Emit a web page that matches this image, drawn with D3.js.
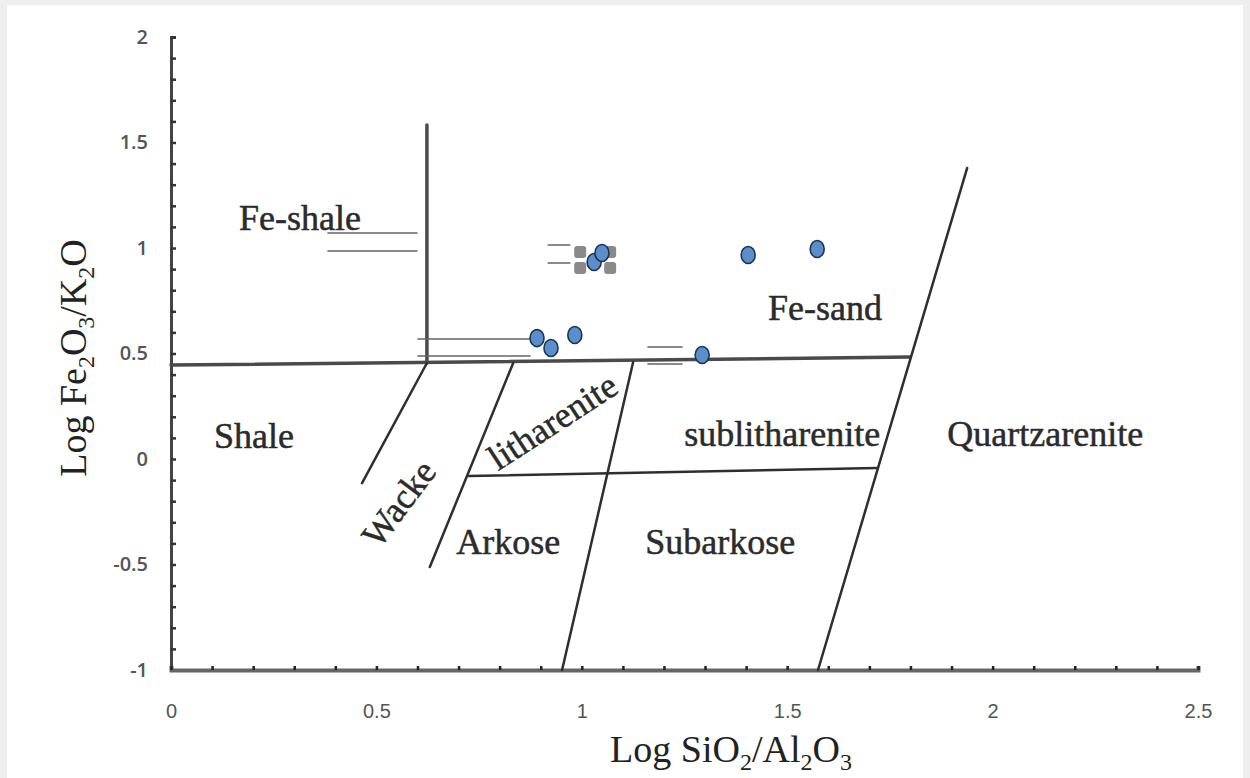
<!DOCTYPE html>
<html><head><meta charset="utf-8">
<script src="https://cdn.jsdelivr.net/npm/d3@7"></script>
<style>body{margin:0;background:#fff}svg{display:block}</style>
</head><body>
<svg id="c" width="1250" height="778"></svg>
<script>
// ---- data (log ratios) ----
const sampleX = [0.891, 0.925, 0.983, 1.030, 1.049, 1.293, 1.405, 1.573];
const sampleY = [0.573, 0.526, 0.588, 0.934, 0.976, 0.493, 0.967, 0.995];
const squareX = [0.996, 1.069, 0.996, 1.069];
const squareY = [0.981, 0.981, 0.905, 0.905];
// classification boundaries [x1,y1,x2,y2]
const mainBoundaries = [
  [0, 0.445, 1.799, 0.483],
  [0.623, 0.455, 0.623, 1.583]
];
const fieldBoundaries = [
  [0.465, -0.114, 0.623, 0.455],
  [0.630, -0.512, 0.833, 0.455],
  [0.952, -1.0, 1.125, 0.460],
  [1.575, -1.0, 1.938, 1.379],
  [0.725, -0.081, 1.718, -0.043]
];
const stubLines = [
  [0.382, 1.071, 0.599, 1.071], [0.382, 0.986, 0.599, 0.986],
  [0.918, 1.014, 0.971, 1.014], [0.918, 0.929, 0.971, 0.929],
  [0.601, 0.569, 0.874, 0.569], [0.601, 0.488, 0.874, 0.488],
  [1.161, 0.531, 1.244, 0.531], [1.161, 0.450, 1.244, 0.450]
];
const fieldNames = ["Fe-shale","Fe-sand","Shale","sublitharenite","Quartzarenite","Arkose","Subarkose","Wacke","litharenite"];
const fieldX = [0.314, 1.592, 0.202, 1.488, 2.128, 0.821, 1.337, 0.578, 0.945];
const fieldY = [1.083, 0.657, 0.054, 0.060, 0.060, -0.448, -0.448, -0.245, 0.130];
const fieldAngle = [0, 0, 0, 0, 0, 0, 0, -53, -33];
const xTickValues = d3.range(0, 26).map(i => i / 10);
const yTickValues = d3.range(-10, 21).map(i => i / 10);

// ---- layout ----
const svg = d3.select("#c");
svg.append("rect").attr("width", 1250).attr("height", 778).attr("fill", "#eeeeee");
svg.append("rect").attr("x", 7).attr("y", 5).attr("width", 1236).attr("height", 773).attr("fill", "#fff");

const x = d3.scaleLinear().domain([0, 2.5]).range([171, 1198]);
const y = d3.scaleLinear().domain([-1, 2]).range([670, 37]);

const isMajor = v => Math.abs(v * 2 - Math.round(v * 2)) < 1e-6;
const fmt = v => isMajor(v) ? String(+v.toFixed(1)) : "";

// axes
const yAxis = d3.axisLeft(y).tickValues(yTickValues).tickSize(-5).tickPadding(23).tickFormat(fmt);
const gy = svg.append("g").attr("transform", "translate(171,0)").call(yAxis);
gy.select(".domain").attr("stroke", "#444").attr("stroke-width", 3);
gy.selectAll(".tick line").attr("stroke", "#333").attr("stroke-width", 2.5);
gy.selectAll("text").attr("font-family", "'Open Sans', 'Liberation Sans', sans-serif")
  .attr("font-size", 20).attr("font-weight", 600).attr("fill", "#555");

const xAxis = d3.axisBottom(x).tickValues(xTickValues).tickSize(-4).tickPadding(34).tickFormat(fmt);
const gx = svg.append("g").attr("transform", "translate(0,670)").call(xAxis);
gx.select(".domain").attr("stroke", "#666").attr("stroke-width", 4);
gx.selectAll(".tick line").attr("stroke", "#222").attr("stroke-width", 2.5);
gx.selectAll("text").attr("font-family", "'Liberation Sans Narrow', 'Liberation Sans', sans-serif")
  .attr("font-size", 20).attr("fill", "#555");

// boundaries
const seg = (g, data, stroke, w) => g.selectAll(null).data(data).enter().append("line")
  .attr("x1", d => x(d[0])).attr("y1", d => y(d[1]))
  .attr("x2", d => x(d[2])).attr("y2", d => y(d[3]))
  .attr("stroke", stroke).attr("stroke-width", w).attr("stroke-linecap", "round");
const gb = svg.append("g");
seg(gb, mainBoundaries, "#4a4a4a", 3.5);
seg(gb, fieldBoundaries, "#2e2e2e", 2.5);
seg(gb, stubLines, "#666", 1.5);

// labels
const gl = svg.append("g").attr("font-family", "'Liberation Serif', 'Times New Roman', serif")
  .attr("font-size", 36).attr("fill", "#2b2b2b").attr("stroke", "#2b2b2b").attr("stroke-width", 0.5);
fieldNames.forEach((n, i) => {
  gl.append("text").attr("text-anchor", "middle")
    .attr("transform", `translate(${x(fieldX[i])},${y(fieldY[i])}) rotate(${fieldAngle[i]})`)
    .text(n);
});

// points
svg.append("g").selectAll("rect").data(squareX).enter().append("rect")
  .attr("x", (d, i) => x(d) - 6).attr("y", (d, i) => y(squareY[i]) - 6)
  .attr("width", 12).attr("height", 12).attr("rx", 3).attr("fill", "#8a8a8a");
svg.append("g").selectAll("ellipse").data(sampleX).enter().append("ellipse")
  .attr("cx", d => x(d)).attr("cy", (d, i) => y(sampleY[i]))
  .attr("rx", 7).attr("ry", 8.5).attr("fill", "#5b8ecb")
  .attr("stroke", "#1c3553").attr("stroke-width", 1.6);

// axis titles
const tf = "'Liberation Serif', 'Times New Roman', serif";
const xt = svg.append("text").attr("x", 731).attr("y", 762).attr("text-anchor", "middle")
  .attr("font-family", tf).attr("font-size", 38).attr("fill", "#222");
xt.append("tspan").text("Log SiO");
xt.append("tspan").attr("font-size", 24).attr("dy", 8).text("2");
xt.append("tspan").attr("dy", -8).text("/Al");
xt.append("tspan").attr("font-size", 24).attr("dy", 8).text("2");
xt.append("tspan").attr("dy", -8).text("O");
xt.append("tspan").attr("font-size", 24).attr("dy", 8).text("3");

const yt = svg.append("text").attr("transform", "translate(86,358) rotate(-90)").attr("text-anchor", "middle")
  .attr("font-family", tf).attr("font-size", 38).attr("fill", "#222");
yt.append("tspan").text("Log Fe");
yt.append("tspan").attr("font-size", 24).attr("dy", 8).text("2");
yt.append("tspan").attr("dy", -8).text("O");
yt.append("tspan").attr("font-size", 24).attr("dy", 8).text("3");
yt.append("tspan").attr("dy", -8).text("/K");
yt.append("tspan").attr("font-size", 24).attr("dy", 8).text("2");
yt.append("tspan").attr("dy", -8).text("O");
</script>
</body></html>
